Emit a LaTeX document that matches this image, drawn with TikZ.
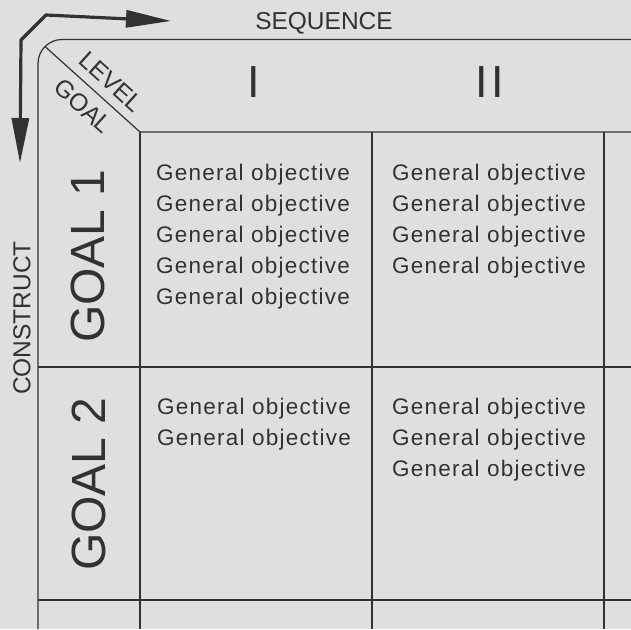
\documentclass[tikz,border=0pt]{standalone}
\usepackage{fontspec}
\setmainfont{Liberation Sans}
\usetikzlibrary{arrows.meta}
\definecolor{paper}{RGB}{222,223,222}
\definecolor{ink}{RGB}{50,50,50}

\begin{document}
\begin{tikzpicture}[x=1pt,y=-1pt,
  rule/.style={draw=ink,line width=1.2pt},
  label/.style={inner sep=0,text=ink,font=\fontsize{24.5}{28}\selectfont},
  goal/.style={inner sep=0,text=ink,rotate=90,font=\fontsize{48}{52}\selectfont},
  obj/.style={anchor=base west,inner sep=0,text=ink,font=\fontsize{22.5}{31}\selectfont\addfontfeature{LetterSpace=5.5}}]
\fill[paper] (0,0) rectangle (631,629);
\useasboundingbox (0,0) rectangle (631,629);

% frame, rows and columns
\draw[rule] (631,39.5) -- (62,39.5) arc (270:180:24) -- (38,629);
\draw[rule] (45,46.5) -- (140,132) -- (631,132);
\draw[rule] (140,132) -- (140,629);
\draw[rule] (372,132) -- (372,629);
\draw[rule] (604,132) -- (604,629);
\draw[rule] (38,367) -- (631,367);
\draw[rule] (38,600) -- (631,600);

% arrows
\coordinate (down) at (20,163);
\coordinate (bendA) at (21,40);
\coordinate (bendB) at (46,15);
\coordinate (right) at (171,21);
\draw[ink,line width=3.2pt,line join=round,
  {Triangle[length=45pt,width=17pt]}-{Triangle[length=45pt,width=17pt]}]
  (down) -- (bendA) -- (bendB) -- (right);

\node[label] (seq) at (324,23) {SEQUENCE};
\node[label,rotate=90] (con) at (22,318) {CONSTRUCT};
\node[label,rotate=-42] (lev) at (111,82) {LEVEL};
\node[label,rotate=-42] (gl) at (83,106) {GOAL};

% column heads
\node[label,font=\fontsize{45}{50}\selectfont] (one) at (254,82) {I};
\node[label,font=\fontsize{45}{50}\selectfont\addfontfeature{LetterSpace=8}] (two) at (490,82) {II};

% row heads
\node[goal] (goal1) at (88,256) {GOAL 1};
\node[goal] (goal2) at (89,484) {GOAL 2};

% cells
\foreach \i in {0,...,4}
  \node[obj] (a\i) at (156,{180+31*\i}) {General objective};
\foreach \i in {0,...,3}
  \node[obj] (b\i) at (392,{180+31*\i}) {General objective};
\foreach \i in {0,1}
  \node[obj] (c\i) at (157,{414+31*\i}) {General objective};
\foreach \i in {0,...,2}
  \node[obj] (d\i) at (392,{414+31*\i}) {General objective};
\end{tikzpicture}
\end{document}
